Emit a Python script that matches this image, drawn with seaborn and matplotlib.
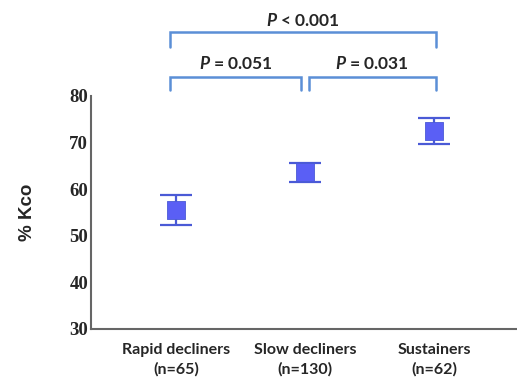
import matplotlib
matplotlib.use("Agg")
import matplotlib.pyplot as plt
import seaborn as sns
import pandas as pd

# group summary values
groups = ["Rapid decliners\n(n=65)", "Slow decliners\n(n=130)", "Sustainers\n(n=62)"]
means = [55.5, 63.6, 72.5]
lower = [52.3, 61.5, 69.7]
upper = [58.8, 65.6, 75.3]
yticks = [30, 40, 50, 60, 70, 80]

# pairwise comparisons: (left group, right group, label, level)
comparisons = [(0, 1, "0.051", "="), (1, 2, "0.031", "="), (0, 2, "0.001", "<")]

df = pd.DataFrame({"group": groups, "x": range(len(groups)), "mean": means})

sns.set_style("white")
plt.rcParams["font.family"] = ["Lato", "DejaVu Sans"]
plt.rcParams["mathtext.fontset"] = "custom"
plt.rcParams["mathtext.it"] = "Lato:italic:bold"
plt.rcParams["mathtext.rm"] = "Lato:bold"

fig = plt.figure(figsize=(5.17, 3.87), dpi=100)
ax = fig.add_axes([0.176, 0.150, 0.824, 0.602])

err_lo = [m - l for m, l in zip(means, lower)]
err_hi = [u - m for m, u in zip(means, upper)]
ax.errorbar(df["x"], df["mean"], yerr=[err_lo, err_hi], fmt="none",
            ecolor="#4a5ad6", elinewidth=1.6, capsize=11.5, capthick=1.6, zorder=2)
sns.scatterplot(data=df, x="x", y="mean", marker="s", s=150, color="#5a5ff5",
                edgecolor="#4a5ad6", linewidth=0.6, ax=ax, zorder=3)

ax.set_xlim(-0.66, 2.64)
ax.set_ylim(30, 80)
ax.set_yticks(yticks)
ax.set_yticklabels([str(t) for t in yticks], family="Liberation Serif",
                   fontweight="bold", fontsize=13.5)
ax.set_xticks(df["x"])
ax.set_xticklabels(groups, fontweight="bold", fontsize=11.5, linespacing=1.45)
ax.tick_params(axis="y", direction="in", length=10, width=1.2, color="#666666", pad=2)
ax.tick_params(axis="x", length=0, pad=10)
ax.set_xlabel("")
ax.set_ylabel("% Kco", fontweight="bold", fontsize=13.5, labelpad=24,
              family=["Liberation Sans", "DejaVu Sans"])

for side in ["top", "right"]:
    ax.spines[side].set_visible(False)
for side in ["left", "bottom"]:
    ax.spines[side].set_color("#666666")
    ax.spines[side].set_linewidth(1.5)

# significance brackets
bcol = "#5b8fd6"
for a, b, p, op in comparisons:
    if b - a == 1:
        x0 = a - 0.05 if a == 0 else a + 0.03
        x1 = b - 0.03 if b == 1 else b + 0.01
        ytop, ybot, ytxt = 84.1, 81.3, 86.9
    else:
        x0, x1 = a - 0.05, b + 0.01
        ytop, ybot, ytxt = 93.7, 90.5, 96.3
    ax.plot([x0, x0, x1, x1], [ybot, ytop, ytop, ybot], color=bcol, lw=1.8,
            clip_on=False, solid_joinstyle="miter")
    ax.text((x0 + x1) / 2, ytxt, f"$\\it{{P}}$ {op} {p}", ha="center", va="center",
            fontsize=12.5, fontweight="bold", clip_on=False)

fig.savefig("out.png", dpi=100)
